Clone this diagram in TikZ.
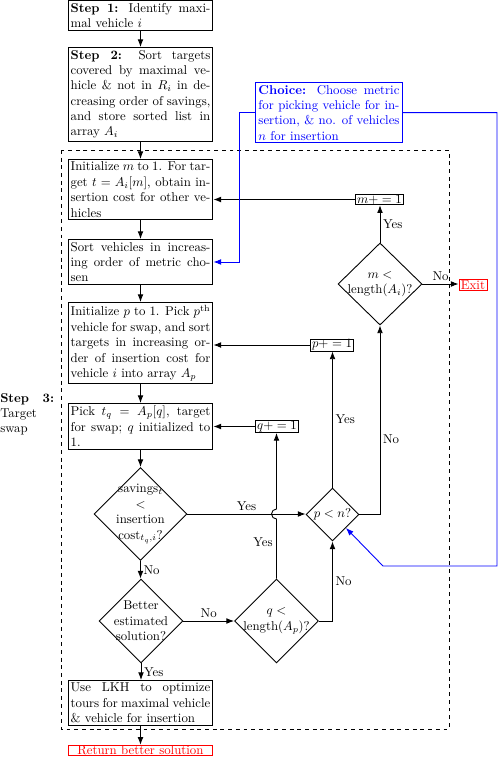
\documentclass[tikz,border=0pt]{standalone}
\usetikzlibrary{shapes.geometric,arrows.meta,calc}
\begin{document}
\begin{tikzpicture}[x=0.78pt,y=-0.78pt,
  box/.style={draw,line width=0.7pt,text width=109pt,inner xsep=2pt,inner ysep=2pt,align=justify,anchor=north},
  dia/.style={draw,diamond,aspect=1,inner sep=0pt,line width=0.7pt},
  dtext/.style={align=center,inner sep=0pt},
  inc/.style={draw,inner xsep=1.5pt,inner ysep=0.5pt,line width=0.7pt},
  arr/.style={line width=0.7pt,-{Latex[length=6pt,width=4.5pt]}},
  lbl/.style={inner sep=2pt},
]
\useasboundingbox (0,0) rectangle (498,759);
% left column
\node[box] (s1) at (140.5,0) {\textbf{Step 1:} Identify maxi-\linebreak mal vehicle $i$};
\node[box] (s2) at (140.5,47) {\textbf{Step 2:} Sort targets\linebreak covered by maximal ve-\linebreak hicle \& not in $R_i$ in de-\linebreak creasing order of savings,\linebreak and store sorted list in\linebreak array $A_i$};
\node[box] (im) at (140.5,159) {Initialize $m$ to 1. For tar-\linebreak get $t=A_i[m]$, obtain in-\linebreak sertion cost for other ve-\linebreak hicles};
\node[box] (sv) at (140.5,239) {Sort vehicles in increas-\linebreak ing order of metric cho-\linebreak sen};
\node[box] (ip) at (140.5,302) {Initialize $p$ to 1. Pick $p^{\mathrm{th}}$\linebreak vehicle for swap, and sort\linebreak targets in increasing or-\linebreak der of insertion cost for\linebreak vehicle $i$ into array $A_p$};
\node[box] (pk) at (140.5,403) {Pick $t_q = A_p[q]$, target\linebreak for swap; $q$ initialized to\linebreak 1.};
\node[dia,minimum width=72.5pt,minimum height=72.5pt] (sd) at (140.5,514) {};
\node[dtext] (sdt) at (sd) {savings$_t$\\$<$\\insertion\\cost$_{t_q,i}$?};
\node[dia,minimum width=65.5pt,minimum height=65.5pt] (bd) at (141,621) {};
\node[dtext] (bdt) at (bd) {Better\\estimated\\solution?};
\node[box] (lk) at (140.5,680) {Use LKH to optimize\linebreak tours for maximal vehicle\linebreak \& vehicle for insertion};
\node[draw=red,text=red,line width=0.7pt,minimum width=113pt,inner ysep=0.5pt] (rt) at (140.5,750.5) {Return better solution};
% right part
\node[dia,minimum width=65.5pt,minimum height=65.5pt] (qd) at (276.5,621) {};
\node[dtext] (qdt) at (qd) {$q<$\\length($A_p$)?};
\node[dia,minimum width=41.3pt,minimum height=41.3pt] (pd) at (332.5,514.5) {};
\node[dtext] (pdt) at (pd) {$p<n$?};
\node[dia,minimum width=65.5pt,minimum height=64pt] (md) at (380,284) {};
\node[dtext] (mdt) at (md) {$m<$\\length($A_i$)?};
\node[inc] (mi) at (379.5,199.5) {$m+=1$};
\node[inc] (pi) at (332,345) {$p+=1$};
\node[inc] (qi) at (277,426.5) {$q+=1$};
\node[draw=red,text=red,line width=0.7pt,inner xsep=1.5pt,inner ysep=0.5pt] (ex) at (473,285) {Exit};
\node[box,draw=blue,text=blue,text width=110pt] (ch) at (329,82) {\textbf{Choice:} Choose metric\linebreak for picking vehicle for in-\linebreak sertion, \& no. of vehicles\linebreak $n$ for insertion};
\node[align=justify,text width=42pt,inner sep=0pt,anchor=north west] (s3) at (0,393) {\textbf{Step 3:}\linebreak Target\newline swap};
\draw[dashed,line width=0.7pt] (61,150) rectangle (449,729);
% connectors
\draw[arr] (s1) -- (s2);
\draw[arr] (s2) -- (im);
\draw[arr] (im) -- (sv);
\draw[arr] (sv) -- (ip);
\draw[arr] (ip) -- (pk);
\draw[arr] (pk) -- (sd);
\draw[arr] (sd.south) -- node[lbl,right]{No} (sd.south |- bd.north);
\draw[arr] (bd.south) -- node[lbl,right]{Yes} (bd.south |- lk.north);
\draw[arr] (lk) -- (rt);
\draw[arr] (sd.east) -- node[lbl,above]{Yes} (sd.east -| pd.west);
\draw[arr] (bd.east) -- node[lbl,above]{No} (qd.west);
\draw[arr] (qd.north) -- ($(qd.north |- sd.east)+(0,5)$) arc[start angle=270,end angle=90,radius=3.9pt] -- (qd.north |- qi.south);
\node[lbl] (qyes) at (263,542) {Yes};
\draw[arr] (qd.east) -| node[lbl,pos=0.75,right]{No} (pd.south);
\draw[arr] (pd.north) -- node[lbl,right]{Yes} (pd.north |- pi.south);
\draw[arr] (pd.east) -| node[lbl,pos=0.7,right]{No} (md.south);
\draw[arr] (md.north) -- node[lbl,right]{Yes} (md.north |- mi.south);
\draw[arr] (md.east) -- node[lbl,above]{No} (md.east -| ex.west);
\draw[arr] (mi.west) -- (mi.west -| im.east);
\draw[arr] (pi.west) -- (pi.west -| ip.east);
\draw[arr] (qi.west) -- (qi.west -| pk.east);
% blue choice connectors
\coordinate (bl) at (239,112);
\coordinate (rb) at (497,566);
\coordinate (lb) at (383,566);
\draw[arr,blue] (ch.west) -- (ch.west -| bl) |- (sv.east);
\draw[arr,blue] (ch.east) -| (rb) -- (lb) -- (pd.south east);
\end{tikzpicture}
\end{document}
